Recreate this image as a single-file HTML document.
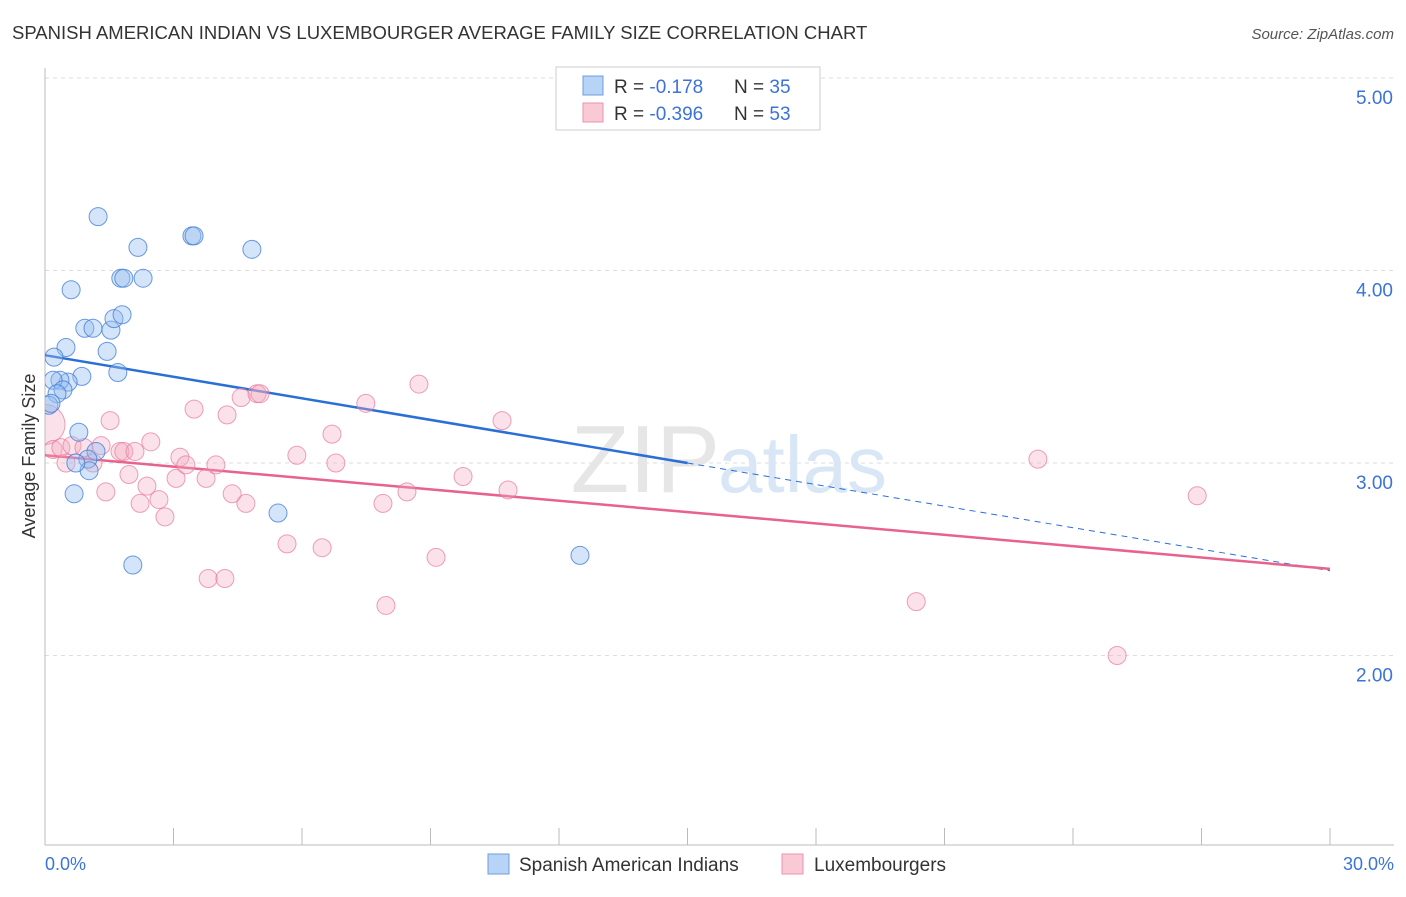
<!DOCTYPE html>
<html><head><meta charset="utf-8"><style>
body{margin:0;background:#fff;font-family:"Liberation Sans",sans-serif;}
svg text{font-family:"Liberation Sans",sans-serif;}
</style></head><body>
<svg width="1406" height="892" id="chart">
<defs><clipPath id="plotclip"><rect x="45" y="60" width="1360" height="785"/></clipPath></defs>
<text x="12" y="39" font-size="18.5" fill="#333">SPANISH AMERICAN INDIAN VS LUXEMBOURGER AVERAGE FAMILY SIZE CORRELATION CHART</text>
<text x="1394" y="39" font-size="15" fill="#555" font-style="italic" text-anchor="end">Source: ZipAtlas.com</text>
<g id="grid"></g>
<text x="720" y="492" font-size="96" fill="#e6e6e6" font-family="Liberation Serif" text-anchor="end">ZIP</text>
<text x="718" y="492" font-size="80" fill="#d8e6f5">atlas</text>
<line x1="45" y1="68" x2="45" y2="845" stroke="#bbb"/>
<line x1="45" y1="845" x2="1394" y2="845" stroke="#bbb"/>
<text x="35" y="456" font-size="18" fill="#333" text-anchor="middle" transform="rotate(-90 35 456)">Average Family Size</text>
<text x="45" y="870" font-size="18" fill="#3b73d9">0.0%</text>
<text x="1394" y="870" font-size="18" fill="#3b73d9" text-anchor="end">30.0%</text>
<g id="lines"></g>
<g id="pts" clip-path="url(#plotclip)"></g>
<g>
<rect x="556" y="67" width="264" height="63" fill="#fff" stroke="#ccc"/>
<rect x="583" y="76" width="20" height="19" fill="#b7d3f5" stroke="#6c9de0"/>
<rect x="583" y="103" width="20" height="19" fill="#f9c9d6" stroke="#eb93ac"/>
<text x="614" y="93" font-size="19" fill="#333">R = <tspan fill="#3b73d9"> -0.178</tspan></text>
<text x="734" y="93" font-size="19" fill="#333">N = <tspan fill="#3b73d9">35</tspan></text>
<text x="614" y="120" font-size="19" fill="#333">R = <tspan fill="#3b73d9">-0.396</tspan></text>
<text x="734" y="120" font-size="19" fill="#333">N = <tspan fill="#3b73d9">53</tspan></text>
</g>
<g>
<rect x="488" y="854" width="21" height="20" fill="#b7d3f5" stroke="#6c9de0"/>
<text x="519" y="871" font-size="19" fill="#333">Spanish American Indians</text>
<rect x="782" y="854" width="21" height="20" fill="#f9c9d6" stroke="#eb93ac"/>
<text x="814" y="871" font-size="19" fill="#333">Luxembourgers</text>
</g>
</svg>
<script>
const yTicks=[2,3,4,5];
const yTickLabels=["2.00","3.00","4.00","5.00"];
const xTicks=[0,3,6,9,12,15,18,21,24,27,30];
const blueX=[1.24,2.17,3.43,3.48,4.83,1.77,2.29,1.84,0.61,0.93,1.12,1.54,1.61,1.80,1.45,0.49,0.21,1.70,0.86,0.54,0.35,0.19,0.42,0.28,0.09,0.14,0.79,1.19,1.00,1.03,0.72,0.68,5.44,2.05,12.49];
const blueY=[4.28,4.12,4.18,4.18,4.11,3.96,3.96,3.96,3.90,3.70,3.70,3.69,3.75,3.77,3.58,3.60,3.55,3.47,3.45,3.42,3.43,3.43,3.38,3.36,3.30,3.31,3.16,3.06,3.02,2.96,3.00,2.84,2.74,2.47,2.52];
const pinkX=[0,0.19,0.37,0.63,0.49,0.91,1.31,1.12,1.52,1.75,1.84,2.10,2.47,1.42,1.96,2.22,2.38,2.66,2.80,3.06,3.15,3.29,3.48,3.76,3.99,4.25,4.37,4.58,4.69,4.95,5.02,3.81,4.20,5.65,5.88,6.47,6.70,6.79,7.49,7.89,7.96,8.45,8.73,9.13,9.76,10.67,10.81,20.34,23.18,25.03,26.90];
const pinkY=[3.20,3.07,3.08,3.09,3.00,3.08,3.09,3.00,3.22,3.06,3.06,3.06,3.11,2.85,2.94,2.79,2.88,2.81,2.72,2.92,3.03,2.99,3.28,2.92,2.99,3.25,2.84,3.34,2.79,3.36,3.36,2.40,2.40,2.58,3.04,2.56,3.15,3.00,3.31,2.79,2.26,2.85,3.41,2.51,2.93,3.22,2.86,2.28,3.02,2.00,2.83];
const blueTrend=[3.56,2.44];
const pinkTrend=[3.04,2.45];
const X=v=>45+v*(1330-45)/30;
const Y=v=>78+(5-v)*192.5;
const NS="http://www.w3.org/2000/svg";
function mk(tag,attrs,parent){const e=document.createElementNS(NS,tag);for(const k in attrs)e.setAttribute(k,attrs[k]);parent.appendChild(e);return e;}
const grid=document.getElementById('grid');
yTicks.forEach((t,i)=>{
 const l=mk('line',{x1:45,x2:1394,y1:Y(t),y2:Y(t),stroke:'#ddd','stroke-dasharray':'4,4'},grid);
 
 
 const tx=mk('text',{x:1393,y:Y(t)+26,'font-size':19,fill:'#3b73d9','text-anchor':'end'},grid);
 tx.textContent=yTickLabels[i];
 
 
});
xTicks.forEach(t=>{
 const l=mk('line',{x1:X(t),x2:X(t),y1:828,y2:845,stroke:'#bbb'},grid);
 
 
});
const lines=document.getElementById('lines');
const xm=15;
const bMid=blueTrend[0]+(blueTrend[1]-blueTrend[0])*xm/30;
let l1=mk('line',{x1:X(0),y1:Y(blueTrend[0]),x2:X(xm),y2:Y(bMid),stroke:'#2a6fd6','stroke-width':2.5},lines);


let l2=mk('line',{x1:X(xm),y1:Y(bMid),x2:X(30),y2:Y(blueTrend[1]),stroke:'#2a6fd6','stroke-width':1,'stroke-dasharray':'6,5'},lines);


let l3=mk('line',{x1:X(0),y1:Y(pinkTrend[0]),x2:X(30),y2:Y(pinkTrend[1]),stroke:'#e8628e','stroke-width':2.5},lines);


const pts=document.getElementById('pts');
pinkX.forEach((x,i)=>{
 const c=mk('circle',{cx:X(x),cy:Y(pinkY[i]),r:i===0?20:9,fill:'rgba(244,170,192,0.35)',stroke:'rgba(232,120,155,0.7)','stroke-width':1},pts);
 
 
});
blueX.forEach((x,i)=>{
 const c=mk('circle',{cx:X(x),cy:Y(blueY[i]),r:9,fill:'rgba(150,190,240,0.4)',stroke:'rgba(60,120,215,0.75)','stroke-width':1},pts);
 
 
});
</script>
</body></html>
